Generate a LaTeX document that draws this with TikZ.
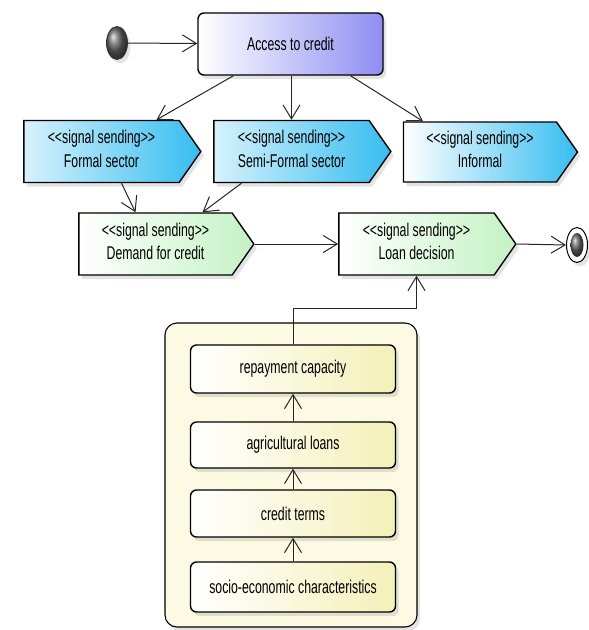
\documentclass[tikz,border=0pt]{standalone}
\usepackage{fontspec}
\setmainfont{Liberation Sans}
\usetikzlibrary{shapes.symbols,shapes.geometric,shadows,arrows.meta}

\definecolor{sigblue}{HTML}{35BDF0}
\definecolor{siggreen}{HTML}{C4F2C4}
\definecolor{accviolet}{HTML}{8E8EF2}
\definecolor{boxyellow}{HTML}{F4F0B8}
\definecolor{packyellow}{HTML}{FCFAE2}

\newcommand\tallt[1]{\scalebox{1}[1.5]{#1}}
\newcommand\sigtext[1]{\tallt{\begin{tabular}{@{}c@{}}<{}<signal sending>{}>\\[2pt] #1\end{tabular}}}

\begin{document}
\begin{tikzpicture}[x=1pt,y=-1pt,
    font=\fontsize{12.3}{13.5}\selectfont,
    >={Straight Barb[length=14pt,width=17pt,line width=1pt]},
    flow/.style={->,draw=black!85,line width=1pt},
    shade/.style={drop shadow={opacity=0.22,shadow xshift=3pt,shadow yshift=-4pt}},
    sigbox/.style={signal,signal to=east,signal pointer angle=110,draw=black,
      line width=1.4pt,inner sep=0pt,minimum height=62pt,shade},
    statebox/.style={rectangle,rounded corners=6pt,draw=black,line width=1.4pt,
      inner sep=0pt,shade},
    factor/.style={statebox,minimum width=205pt,left color=white,right color=boxyellow}]
    \useasboundingbox (0,0) rectangle (589,630);

    % package of factors
    \draw[line width=1.1pt,rounded corners=12pt,fill=packyellow,shade]
      (165,323) rectangle (417,627);

    \node[ellipse,draw=black!80,line width=0.8pt,ball color=black!60,
      minimum width=21pt,minimum height=33pt,inner sep=0pt,shade] (start) at (117,43) {};
    \node[statebox,minimum width=185pt,minimum height=62pt,left color=white,
      right color=accviolet] (access) at (290.5,44) {\tallt{Access to credit}};

    \node[sigbox,minimum width=177pt,left color=sigblue!20,right color=sigblue]
      (formal) at (101.5,151.5) {\sigtext{Formal sector}};
    \node[sigbox,minimum width=177pt,left color=sigblue!20,right color=sigblue]
      (semi) at (291.5,151.5) {\sigtext{Semi-Formal sector}};
    \node[sigbox,minimum width=174pt,minimum height=60pt,left color=white,right color=sigblue]
      (informal) at (480,152) {\sigtext{Informal}};

    \node[sigbox,minimum width=175pt,left color=white,right color=siggreen]
      (demand) at (155.5,244) {\sigtext{Demand for credit}};
    \node[sigbox,minimum width=177pt,left color=white,right color=siggreen]
      (loan) at (416.5,244) {\sigtext{Loan decision}};

    \node[ellipse,draw=black,line width=1pt,fill=white,minimum width=21pt,
      minimum height=35pt,inner sep=0pt,shade] (final) at (577,245) {};
    \node[ellipse,ball color=black!60,minimum width=13pt,minimum height=24pt,
      inner sep=0pt] (finaldot) at (final.center) {};

    \node[factor,minimum height=48pt] (repay) at (293,369) {\tallt{repayment capacity}};
    \node[factor,minimum height=46pt] (agri) at (293,445) {\tallt{agricultural loans}};
    \node[factor,minimum height=47pt] (terms) at (293,513.5) {\tallt{credit terms}};
    \node[factor,minimum height=50pt] (socio) at (293,587) {\tallt{socio-economic characteristics}};

    \draw[flow] (start) -- (access);
    \draw[flow] ([xshift=-57pt]access.south) -- ([xshift=55pt]formal.north);
    \draw[flow] (semi.north |- access.south) -- (semi.north);
    \draw[flow] ([xshift=60pt]access.south) -- ([xshift=-57pt]informal.north);
    \draw[flow] ([xshift=20pt]formal.south) -- ([xshift=-20pt]demand.north);
    \draw[flow] ([xshift=-50pt]semi.south) -- ([xshift=47pt]demand.north);
    \draw[flow] (demand.east) -- (loan.west);
    \draw[flow] (loan.east) -- (final.west);

    \draw[flow] (socio) -- (terms);
    \draw[flow] (terms) -- (agri);
    \draw[flow] (agri) -- (repay);
    \draw[flow] (repay.north) -- ++(0,-36) -| (loan.south);
\end{tikzpicture}
\end{document}
